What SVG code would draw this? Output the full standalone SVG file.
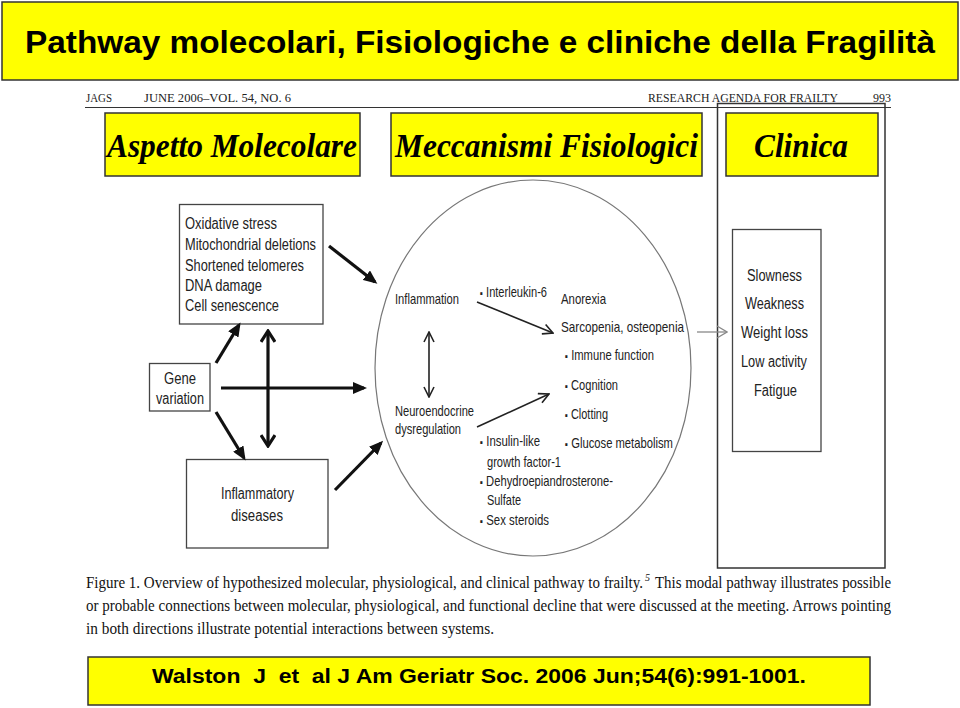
<svg xmlns="http://www.w3.org/2000/svg" width="960" height="708" viewBox="0 0 960 708">
<defs>
<style>
.yel{fill:#FFFF00;stroke:#333;stroke-width:1.5}
.box{fill:#fff;stroke:#444;stroke-width:1.3}
.nar{font-family:"Liberation Sans",Arial,sans-serif;fill:#222}
.n15{font-size:16px}
.n14{font-size:14.5px}
.bul{font-size:11px}
.head{font-family:"Liberation Serif",serif;font-size:12.5px;fill:#222}
.sec{font-family:"Liberation Serif",serif;font-size:33px;font-weight:bold;font-style:italic;fill:#000}
.cap{font-family:"Liberation Serif",serif;font-size:16px;fill:#111}
.sup{font-family:"Liberation Serif",serif;font-size:10px;font-style:italic;fill:#111}
.thick{stroke:#111;stroke-width:3.2;fill:none}
.thin{stroke:#222;stroke-width:1.6;fill:none}
</style>
<marker id="fill" viewBox="0 0 14 12" refX="11" refY="6" markerWidth="14" markerHeight="12" markerUnits="userSpaceOnUse" orient="auto">
<path d="M0,0 L14,6 L0,12 z" fill="#111"/>
</marker>
<marker id="vThick" viewBox="0 0 14 16" refX="12" refY="8" markerWidth="14" markerHeight="16" markerUnits="userSpaceOnUse" orient="auto-start-reverse">
<path d="M1,1 L12,8 L1,15" fill="none" stroke="#111" stroke-width="3.2"/>
</marker>
<marker id="vThin" viewBox="0 0 12 12" refX="11" refY="6" markerWidth="12" markerHeight="12" markerUnits="userSpaceOnUse" orient="auto-start-reverse">
<path d="M1,1 L11,6 L1,11" fill="none" stroke="#222" stroke-width="1.6"/>
</marker>
<marker id="vGray" viewBox="0 0 12 14" refX="11" refY="7" markerWidth="12" markerHeight="14" markerUnits="userSpaceOnUse" orient="auto">
<path d="M1,1 L11,7 L1,13" fill="none" stroke="#888" stroke-width="1.3"/>
</marker>
</defs>
<rect width="960" height="708" fill="#fff"/>

<g id="title">
<rect x="2" y="2" width="956" height="78" class="yel"/>
<text x="25" y="53" font-family="Liberation Sans,Arial,sans-serif" font-size="31" font-weight="bold" fill="#000" textLength="910" lengthAdjust="spacingAndGlyphs">Pathway molecolari, Fisiologiche e cliniche della Fragilità</text>
</g>

<g id="journal-header">
<text x="86" y="102" class="head" textLength="26" lengthAdjust="spacingAndGlyphs">JAGS</text>
<text x="144" y="102" class="head" textLength="147" lengthAdjust="spacingAndGlyphs">JUNE 2006–VOL. 54, NO. 6</text>
<text x="648" y="102" class="head" textLength="190" lengthAdjust="spacingAndGlyphs">RESEARCH AGENDA FOR FRAILTY</text>
<text x="873" y="102" class="head" textLength="18" lengthAdjust="spacingAndGlyphs">993</text>
<line x1="85" y1="107.5" x2="891" y2="107.5" stroke="#333" stroke-width="1.2"/>
</g>

<g id="clinica-frame">
<rect x="717.5" y="103.5" width="167.5" height="464.5" fill="none" stroke="#333" stroke-width="1.5"/>
</g>

<g id="sec-molecolare">
<rect x="105" y="113" width="255" height="63" class="yel"/>
<text x="107" y="157" class="sec" textLength="250" lengthAdjust="spacingAndGlyphs">Aspetto Molecolare</text>
</g>
<g id="sec-fisiologici">
<rect x="391" y="113" width="311" height="63" class="yel"/>
<text x="395" y="157" class="sec" textLength="303" lengthAdjust="spacingAndGlyphs">Meccanismi Fisiologici</text>
</g>
<g id="sec-clinica">
<rect x="726" y="113" width="152" height="63" class="yel"/>
<text x="754" y="157" class="sec" textLength="94" lengthAdjust="spacingAndGlyphs">Clinica</text>
</g>

<g id="molecular-box" class="nar n15">
<rect x="179.5" y="204.5" width="143.5" height="119.5" class="box"/>
<text x="185" y="229" textLength="92" lengthAdjust="spacingAndGlyphs">Oxidative stress</text>
<text x="185" y="250" textLength="131" lengthAdjust="spacingAndGlyphs">Mitochondrial deletions</text>
<text x="185" y="271" textLength="119" lengthAdjust="spacingAndGlyphs">Shortened telomeres</text>
<text x="185" y="291" textLength="77" lengthAdjust="spacingAndGlyphs">DNA damage</text>
<text x="185" y="311" textLength="94" lengthAdjust="spacingAndGlyphs">Cell senescence</text>
</g>

<g id="gene-variation" class="nar n15">
<rect x="149.5" y="363.5" width="60.5" height="47.5" class="box"/>
<text x="164" y="384" textLength="32" lengthAdjust="spacingAndGlyphs">Gene</text>
<text x="156" y="404" textLength="48" lengthAdjust="spacingAndGlyphs">variation</text>
</g>

<g id="inflammatory-diseases" class="nar n15">
<rect x="186.5" y="459.5" width="141.5" height="88.5" class="box"/>
<text x="221" y="499" textLength="73" lengthAdjust="spacingAndGlyphs">Inflammatory</text>
<text x="231" y="521" textLength="52" lengthAdjust="spacingAndGlyphs">diseases</text>
</g>

<g id="physiology-circle" class="nar n14">
<ellipse cx="533" cy="368" rx="158" ry="188" fill="#fff" stroke="#777" stroke-width="1.2"/>
<text x="395" y="304" textLength="64" lengthAdjust="spacingAndGlyphs">Inflammation</text>
<text x="480" y="297" textLength="67" lengthAdjust="spacingAndGlyphs"><tspan class="bul">▪</tspan> Interleukin-6</text>
<text x="561" y="304" textLength="45" lengthAdjust="spacingAndGlyphs">Anorexia</text>
<text x="561" y="332" textLength="123" lengthAdjust="spacingAndGlyphs">Sarcopenia, osteopenia</text>
<text x="565" y="360" textLength="89" lengthAdjust="spacingAndGlyphs"><tspan class="bul">▪</tspan> Immune function</text>
<text x="565" y="390" textLength="53" lengthAdjust="spacingAndGlyphs"><tspan class="bul">▪</tspan> Cognition</text>
<text x="565" y="419" textLength="43" lengthAdjust="spacingAndGlyphs"><tspan class="bul">▪</tspan> Clotting</text>
<text x="565" y="448" textLength="108" lengthAdjust="spacingAndGlyphs"><tspan class="bul">▪</tspan> Glucose metabolism</text>
<text x="395" y="416" textLength="79" lengthAdjust="spacingAndGlyphs">Neuroendocrine</text>
<text x="395" y="434" textLength="66" lengthAdjust="spacingAndGlyphs">dysregulation</text>
<text x="480" y="446" textLength="60" lengthAdjust="spacingAndGlyphs"><tspan class="bul">▪</tspan> Insulin-like</text>
<text x="487" y="467" textLength="74" lengthAdjust="spacingAndGlyphs">growth factor-1</text>
<text x="480" y="486" textLength="133" lengthAdjust="spacingAndGlyphs"><tspan class="bul">▪</tspan> Dehydroepiandrosterone-</text>
<text x="487" y="505" textLength="34" lengthAdjust="spacingAndGlyphs">Sulfate</text>
<text x="480" y="525" textLength="69" lengthAdjust="spacingAndGlyphs"><tspan class="bul">▪</tspan> Sex steroids</text>
</g>

<g id="clinical-box" class="nar n15">
<rect x="732.5" y="229.5" width="88.5" height="222" class="box"/>
<text x="747" y="281" textLength="55" lengthAdjust="spacingAndGlyphs">Slowness</text>
<text x="745" y="309" textLength="59" lengthAdjust="spacingAndGlyphs">Weakness</text>
<text x="741" y="338" textLength="67" lengthAdjust="spacingAndGlyphs">Weight loss</text>
<text x="741" y="367" textLength="66" lengthAdjust="spacingAndGlyphs">Low activity</text>
<text x="754" y="396" textLength="43" lengthAdjust="spacingAndGlyphs">Fatigue</text>
</g>

<g id="connectors">
<line x1="329" y1="246" x2="375" y2="282" class="thick" marker-end="url(#fill)"/>
<line x1="216" y1="363" x2="239" y2="325" class="thick" marker-end="url(#fill)"/>
<line x1="216" y1="412" x2="244" y2="458" class="thick" marker-end="url(#fill)"/>
<line x1="268" y1="331" x2="268" y2="446" class="thick" marker-start="url(#vThick)" marker-end="url(#vThick)"/>
<line x1="221" y1="388" x2="364" y2="388" class="thick" marker-end="url(#fill)"/>
<line x1="335" y1="490" x2="381" y2="443" class="thick" marker-end="url(#fill)"/>
<line x1="477" y1="302" x2="553" y2="333" class="thin" marker-end="url(#vThin)"/>
<line x1="477" y1="427" x2="549" y2="394" class="thin" marker-end="url(#vThin)"/>
<line x1="429" y1="332" x2="429" y2="397" class="thin" marker-start="url(#vThin)" marker-end="url(#vThin)"/>
<line x1="697" y1="332" x2="727" y2="332" stroke="#888" stroke-width="1.3" marker-end="url(#vGray)"/>
</g>

<g id="caption">
<text class="cap" x="86" y="588" textLength="557" lengthAdjust="spacingAndGlyphs">Figure 1. Overview of hypothesized molecular, physiological, and clinical pathway to frailty.</text>
<text class="sup" x="645" y="581">5</text>
<text class="cap" x="655" y="588" textLength="236" lengthAdjust="spacingAndGlyphs">This modal pathway illustrates possible</text>
<text class="cap" x="86" y="611" textLength="805" lengthAdjust="spacingAndGlyphs">or probable connections between molecular, physiological, and functional decline that were discussed at the meeting. Arrows pointing</text>
<text class="cap" x="86" y="634" textLength="408" lengthAdjust="spacingAndGlyphs">in both directions illustrate potential interactions between systems.</text>
</g>

<g id="reference">
<rect x="88" y="657" width="782" height="48" class="yel"/>
<text x="152" y="683" xml:space="preserve" font-family="Liberation Sans,Arial,sans-serif" font-size="20" font-weight="bold" fill="#000" textLength="654" lengthAdjust="spacingAndGlyphs">Walston  J  et  al J Am Geriatr Soc. 2006 Jun;54(6):991-1001.</text>
</g>
</svg>
